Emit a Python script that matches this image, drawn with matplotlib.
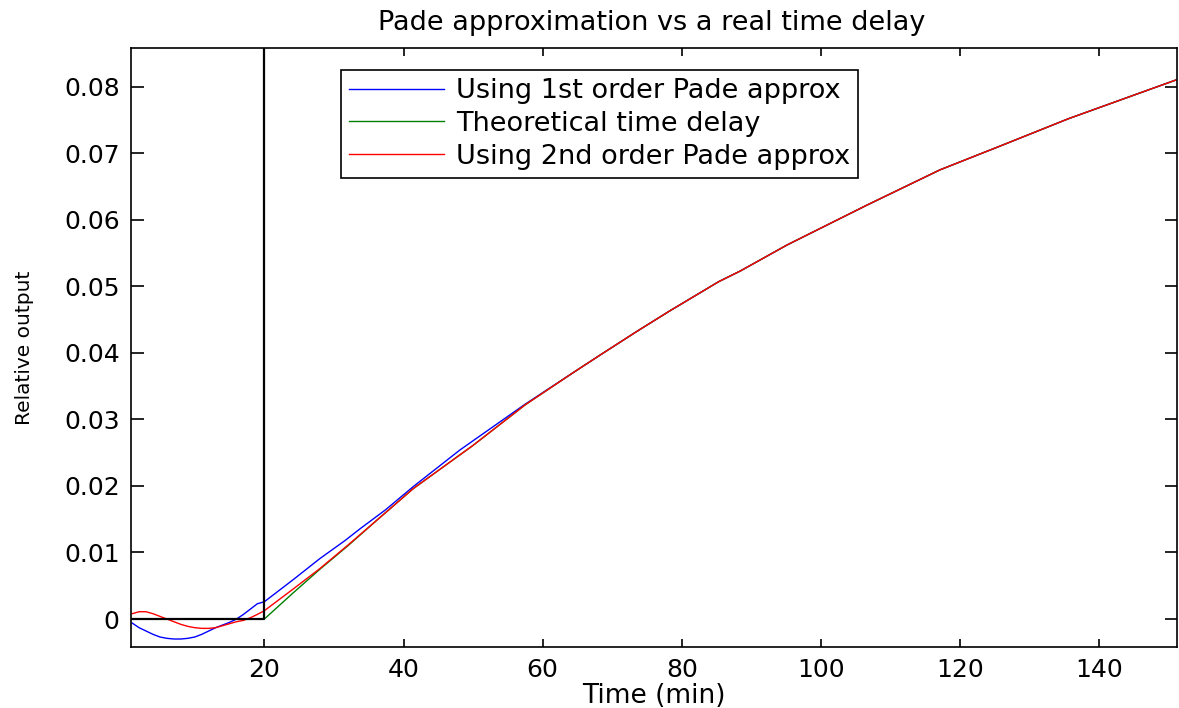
import matplotlib
matplotlib.use("Agg")
import matplotlib.pyplot as plt

# ---- data ----
t_pade1 = [1, 2, 3, 4, 5, 6, 7, 8, 9, 10, 11, 12, 13, 14, 15, 16, 17, 18, 19, 20,
           24, 28, 31.6, 33.8, 37.4, 41.4, 48.1, 57.5, 64.2, 68.3, 73.5, 78.1, 85.3,
           88.4, 95.1, 106.6, 117.1, 125.8, 135.6, 151]
y_pade1 = [-0.0006, -0.0013, -0.0018, -0.0023, -0.0027, -0.0029, -0.0030, -0.0030,
           -0.0029, -0.0027, -0.0023, -0.0018, -0.0013, -0.0009, -0.0005, 0.0000,
           0.0007, 0.0015, 0.0023, 0.0026,
           0.0058, 0.0091, 0.0118, 0.0136, 0.0164, 0.0199, 0.0254, 0.0323, 0.0369,
           0.0397, 0.0432, 0.0462, 0.0507, 0.0523, 0.0562, 0.0622, 0.0675, 0.0711,
           0.0752, 0.0810]

t_theory = [1, 20, 24, 28, 32, 36, 41.4, 50, 57.5, 64.2, 68.3, 73.5, 78.1, 85.3,
            88.4, 95.1, 106.6, 117.1, 125.8, 135.6, 151]
y_theory = [0.0, 0.0, 0.0038, 0.0075, 0.0110, 0.0147, 0.0196, 0.0261, 0.0322,
            0.0369, 0.0397, 0.0432, 0.0462, 0.0507, 0.0523, 0.0562, 0.0622,
            0.0675, 0.0711, 0.0752, 0.0810]

t_pade2 = [1, 2, 3, 4, 5, 6, 7, 8, 9, 10, 11, 12, 13, 14, 15, 16, 17, 18, 19, 20,
           24, 28, 32, 36, 41.4, 50, 57.5, 64.2, 68.3, 73.5, 78.1, 85.3, 88.4,
           95.1, 106.6, 117.1, 125.8, 135.6, 151]
y_pade2 = [0.0008, 0.0011, 0.0011, 0.0008, 0.0004, 0.0000, -0.0004, -0.0008,
           -0.0011, -0.0013, -0.0014, -0.0014, -0.0013, -0.0010, -0.0007, -0.0004,
           -0.0002, 0.0002, 0.0007, 0.00125,
           0.0044, 0.0076, 0.0111, 0.0147, 0.0196, 0.0261, 0.0322, 0.0369, 0.0397,
           0.0432, 0.0462, 0.0507, 0.0523, 0.0562, 0.0622, 0.0675, 0.0711, 0.0752,
           0.0810]

t_delay = [1, 20, 20]
y_delay = [0.0, 0.0, 1.0]

labels = ["Using 1st order Pade approx", "Theoretical time delay",
          "Using 2nd order Pade approx"]
xticks = [20, 40, 60, 80, 100, 120, 140]
yticks = [0, 0.01, 0.02, 0.03, 0.04, 0.05, 0.06, 0.07, 0.08]
yticklabels = ["0", "0.01", "0.02", "0.03", "0.04", "0.05", "0.06", "0.07", "0.08"]

plt.rcParams['font.family'] = ['DejaVu Sans']

fig = plt.figure(figsize=(11.79, 7.08), dpi=100)
ax = fig.add_axes([0.1109, 0.0857, 0.8870, 0.8461])

l1, = ax.plot(t_pade1, y_pade1, color=(0, 0, 1), lw=1.0)
l2, = ax.plot(t_theory, y_theory, color=(0, 0.5, 0), lw=1.0)
l3, = ax.plot(t_pade2, y_pade2, color=(1, 0, 0), lw=1.0)
ax.plot(t_delay, y_delay, color='black', lw=1.6)

ax.set_xlim(0.8, 151.1)
ax.set_ylim(-0.00425, 0.08577)
ax.set_xticks(xticks)
ax.set_xticklabels([str(v) for v in xticks])
ax.set_yticks(yticks)
ax.set_yticklabels(yticklabels)

ax.tick_params(axis='both', direction='in', top=True, right=True,
               labelsize=18, pad=8, width=1.2, colors='black')
ax.tick_params(axis='x', length=6)
ax.tick_params(axis='y', length=9)
for s in ax.spines.values():
    s.set_linewidth(1.2)

ax.set_xlabel("Time (min)", fontsize=19, labelpad=0.5)
fig.text(24 / 1179, 1 - 348 / 708, "Relative output", rotation=90,
         ha='center', va='center', fontsize=14.5)
fig.text(651.5 / 1179, 1 - 30 / 708, "Pade approximation vs a real time delay",
         ha='center', va='baseline', fontsize=19.5)

leg = ax.legend([l1, l2, l3], labels, loc='upper left',
                bbox_to_anchor=(341 / 1179, 1 - 70 / 708),
                bbox_transform=fig.transFigure, borderaxespad=0,
                fontsize=19.5, fancybox=False, shadow=False, framealpha=1,
                edgecolor='black', handlelength=3.5, handletextpad=0.45,
                labelspacing=0.25, borderpad=0.3)
leg.get_frame().set_linewidth(1.2)

fig.savefig("out.png", dpi=100)
